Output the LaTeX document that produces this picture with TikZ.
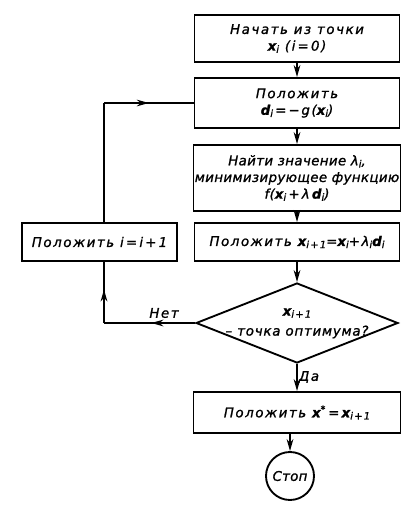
\documentclass[tikz,border=0pt]{standalone}
\usepackage{fontspec}
\setmainfont{DejaVu Sans}[LetterSpace=12,FakeBold=1.2]
\usetikzlibrary{arrows.meta,shapes.geometric,decorations.markings}
\newcommand\vx{\textbf{x}}
\newcommand\vd{\textbf{d}}
\newcommand\sub[1]{\raisebox{-0.3ex}{\fontsize{7.5}{8}\selectfont\itshape #1}}
\begin{document}
\begin{tikzpicture}[x=0.75pt,y=-0.75pt,
  every node/.style={font=\itshape\fontsize{10}{12.5}\selectfont},
  ln/.style={line width=1.4pt},
  box/.style={draw,ln,align=center,inner sep=1pt},
  sz/.style 2 args={minimum width=#1*0.75pt,minimum height=#2*0.75pt},
  arr/.style={ln,-{Stealth[length=9pt,width=5pt]}},
  midarr/.style={ln,postaction={decorate},decoration={markings,
     mark=at position #1 with {\arrow{Stealth[length=9pt,width=5pt]}}}}
]
\useasboundingbox (0,0) rectangle (417,510);
\node[box,sz={205}{47}] (b1) at (297,38.5) {Начать из точки\\\vx\sub{i} (i\,=\,0)};
\node[box,sz={205}{50}] (b2) at (297,103) {Положить\\\vd\sub{i}\,=\,−g(\vx\sub{i})};
\node[box,sz={206}{66},font=\itshape\fontsize{10}{12.5}\selectfont\addfontfeature{LetterSpace=3}] (b3) at (297,178) {Найти значение λ\sub{i},\\минимизирующее функцию\\f(\vx\sub{i}\,+\,λ\,\vd\sub{i})};
\node[box,sz={205}{38}] (b4) at (297,242) {Положить \vx\sub{i+1}=\vx\sub{i}+λ\sub{i}\vd\sub{i}};
\node[box,sz={155}{38}] (bl) at (99.5,242) {Положить i\,=\,i\,+\,1};
\node[draw,ln,shape=diamond,inner sep=0pt,sz={202}{80}] (dm) at (297,323) {};
\node (dt1) at (297,313) {\vx\sub{i+1}};
\node[font=\itshape\fontsize{10}{12.5}\selectfont\addfontfeature{LetterSpace=6}] (dt2) at (297,332) {– точка оптимума?};
\node[box,sz={207}{41}] (b5) at (297,412.5) {Положить \vx\textsuperscript{*}\,=\,\vx\sub{i+1}};
\node[draw,ln,circle,inner sep=0pt,minimum size=48*0.75pt,font=\itshape\fontsize{10}{12.5}\selectfont\addfontfeature{LetterSpace=2}] (st) at (290,476) {Стоп};
\node (no) at (164,313) {Нет};
\node (yes) at (309,377) {Да};
\coordinate (c1) at (104,323);
\coordinate (c2) at (104,103);
\draw[arr] (b1) -- (b2);
\draw[arr] (b2) -- (b3);
\draw[arr] (b3) -- (b4);
\draw[arr] (b4) -- (dm);
\draw[arr] (dm) -- (b5);
\draw[arr] (b5.south -| st.north) -- (st);
\draw[midarr=0.48] (dm.west) -- (c1);
\draw[midarr=0.55] (c1) -- (bl.south -| c1);
\draw[ln] (bl.north -| c2) -- (c2);
\draw[midarr=0.5] (c2) -- (b2.west);
\end{tikzpicture}
\end{document}
